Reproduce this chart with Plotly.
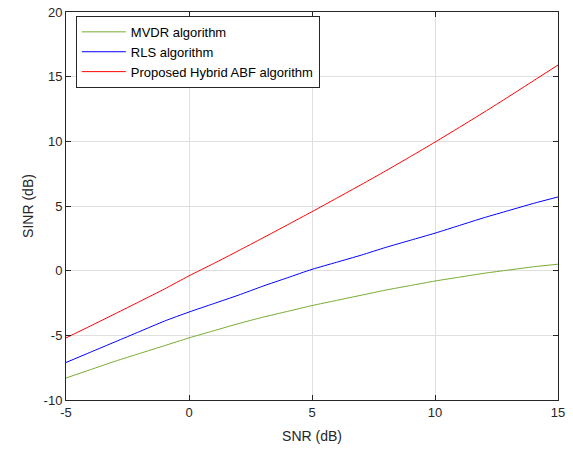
import plotly.graph_objects as go

snr = list(range(-5, 16))
mvdr = [-8.3, -7.65, -7.0, -6.4, -5.8, -5.2, -4.65, -4.1, -3.6, -3.15, -2.7,
        -2.3, -1.9, -1.5, -1.15, -0.8, -0.5, -0.2, 0.05, 0.3, 0.5]
rls = [-7.1, -6.3, -5.5, -4.7, -3.9, -3.2, -2.55, -1.9, -1.2, -0.55, 0.1,
       0.65, 1.2, 1.8, 2.35, 2.9, 3.5, 4.1, 4.65, 5.2, 5.7]
hybrid = [-5.2, -4.27, -3.33, -2.38, -1.42, -0.4, 0.55, 1.53, 2.53, 3.54, 4.56,
          5.6, 6.65, 7.72, 8.82, 9.94, 11.09, 12.26, 13.46, 14.68, 15.9]

x_ticks = [-5, 0, 5, 10, 15]
x_ticktext = ["-5", "0", "5", "10", "15"]
y_ticks = [-10, -5, 0, 5, 10, 15, 20]
y_ticktext = ["-10", "-5", "0", "5", "10", "15", "20"]

names = ["MVDR algorithm", "RLS algorithm", "Proposed Hybrid ABF algorithm"]
colors = ["#77AC30", "#0000FF", "#FF0000"]

fig = go.Figure()
for name, ys, c in zip(names, [mvdr, rls, hybrid], colors):
    fig.add_trace(go.Scatter(x=snr, y=ys, mode="lines", name=name,
                             line=dict(color=c, width=1, shape="spline", smoothing=0.6)))

axis_common = dict(showline=True, linecolor="#262626", linewidth=1, mirror="allticks",
                   ticks="inside", ticklen=5, tickcolor="#262626", automargin=False,
                   showgrid=True, gridcolor="#dfdfdf", gridwidth=1, zeroline=False,
                   tickfont=dict(size=13, color="#262626"))
fig.update_xaxes(range=[-5, 15], tickvals=x_ticks, ticktext=x_ticktext,
                 title=dict(text="SNR (dB)", font=dict(size=14, color="#262626"), standoff=12), **axis_common)
fig.update_yaxes(range=[-10, 20], tickvals=y_ticks, ticktext=y_ticktext,
                 title=dict(text="SINR (dB)", font=dict(size=14, color="#262626"), standoff=6), **axis_common)

fig.update_layout(
    width=573, height=450,
    margin=dict(l=66, r=15, t=12, b=50, autoexpand=False),
    plot_bgcolor="white", paper_bgcolor="white",
    font=dict(family="Liberation Sans, Arial, sans-serif", color="#262626"),
    legend=dict(x=0.02, y=0.99, xanchor="left", yanchor="top",
                bgcolor="white", bordercolor="#262626", borderwidth=1,
                font=dict(size=13, color="#000000"), tracegroupgap=0,
                itemwidth=44),
    showlegend=True,
)

fig.write_html("out.html", config={"displayModeBar": False},
               post_script="document.body.style.margin='0';document.body.style.overflow='hidden';")
